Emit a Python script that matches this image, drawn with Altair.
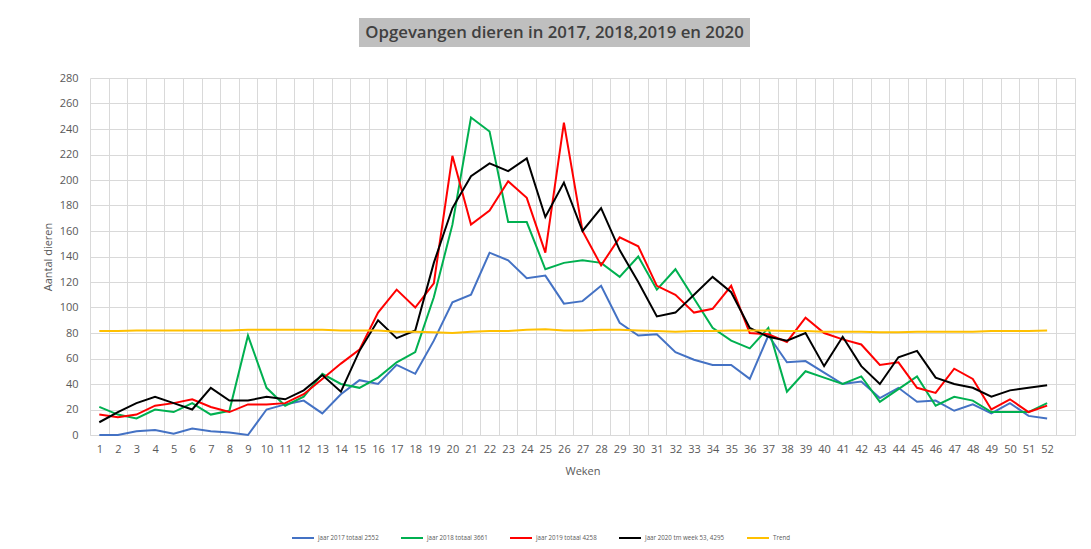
import altair as alt
import pandas as pd

weeks = list(range(1, 53))

series_names = [
    "jaar 2017 totaal 2552",
    "jaar 2018 totaal 3661",
    "jaar 2019 totaal 4258",
    "Jaar 2020 tm week 53, 4295",
    "Trend",
]
series_colors = ["#4472C4", "#00B050", "#FF0000", "#000000", "#FFC000"]
series_widths = [2, 2, 3, 2, 2]

y2017 = [0, 0, 3, 4, 1, 5, 3, 2, 0, 20, 24, 27, 17, 32, 43, 40, 55, 48, 74, 104,
         110, 143, 137, 123, 125, 103, 105, 117, 88, 78, 79, 65, 59, 55, 55, 44, 78, 57, 58, 49,
         40, 42, 29, 37, 26, 27, 19, 24, 17, 25, 15, 13]
y2018 = [22, 16, 13, 20, 18, 25, 16, 19, 78, 37, 23, 30, 48, 40, 37, 45, 57, 65, 108, 165,
         249, 238, 167, 167, 130, 135, 137, 135, 124, 140, 114, 130, 107, 84, 74, 68, 84, 34, 50, 45,
         40, 46, 26, 36, 46, 23, 30, 27, 18, 18, 18, 25]
y2019 = [16, 14, 16, 23, 25, 28, 22, 18, 24, 24, 25, 32, 44, 56, 67, 96, 114, 100, 119, 219,
         165, 176, 199, 186, 143, 245, 160, 133, 155, 148, 117, 110, 96, 99, 117, 80, 79, 73, 92, 80,
         75, 71, 55, 57, 37, 33, 52, 44, 20, 28, 18, 23]
y2020 = [10, 18, 25, 30, 25, 20, 37, 27, 27, 30, 28, 35, 47, 34, 66, 90, 76, 82, 135, 178,
         203, 213, 207, 217, 171, 198, 160, 178, 145, 120, 93, 96, 110, 124, 112, 84, 77, 74, 80, 54,
         77, 54, 40, 61, 66, 45, 40, 37, 30, 35, 37, 39]
trend = [81.5, 81.5, 82, 82, 82, 82, 82, 82, 82.5, 82.5, 82.5, 82.5, 82.5, 82, 82, 82, 81, 81, 80.5, 80,
         81, 81.5, 81.5, 82.5, 83, 82, 82, 82.5, 82.5, 82, 81.5, 81, 81.5, 81.5, 82, 82, 82, 81.5, 81.5, 81,
         81, 81, 80.5, 80.5, 81, 81, 81, 81, 81.5, 81.5, 81.5, 82]

y_ticks = list(range(0, 281, 20))
title_text = ["Opgevangen dieren in 2017, 2018,2019 en 2020"]

rows = []
for name, vals in zip(series_names, [y2017, y2018, y2019, y2020, trend]):
    for w, v in zip(weeks, vals):
        rows.append({"week": w, "value": v, "series": name})
df = pd.DataFrame(rows)

x_values = [i / 2 for i in range(1, 108)]  # 0.5 .. 53.5

FONT = "Open Sans"
GRID = "#D9D9D9"
TXT = "#595959"

lines = alt.Chart(df).mark_line(strokeJoin="miter").encode(
    x=alt.X(
        "week:Q",
        scale=alt.Scale(domain=[0.5, 53.5], nice=False, zero=False),
        axis=alt.Axis(
            values=x_values,
            labelExpr="datum.value % 1 == 0 && datum.value <= 52 ? datum.value : ''",
            gridOpacity={"condition": {"test": "datum.value % 1 != 0", "value": 1}, "value": 0},
            gridColor=GRID,
            ticks=False,
            domainColor=GRID,
            labelOverlap=False,
            labelFlush=False,
            labelPadding=8,
            labelFontSize=11,
            labelColor=TXT,
            labelFont=FONT,
            title="Weken",
            titleFontSize=11,
            titleFontWeight="normal",
            titleColor=TXT,
            titleFont=FONT,
            titlePadding=11,
        ),
    ),
    y=alt.Y(
        "value:Q",
        scale=alt.Scale(domain=[0, 280], nice=False),
        axis=alt.Axis(
            values=y_ticks,
            gridColor=GRID,
            ticks=False,
            domain=False,
            labelPadding=12,
            labelFontSize=11,
            labelColor=TXT,
            labelFont=FONT,
            title="Aantal dieren",
            titleFontSize=11,
            titleFontWeight="normal",
            titleColor=TXT,
            titleFont=FONT,
            titlePadding=6,
        ),
    ),
    color=alt.Color(
        "series:N",
        sort=series_names,
        scale=alt.Scale(domain=series_names, range=series_colors),
        legend=alt.Legend(
            title=None,
            orient="none",
            direction="horizontal",
            legendX=201,
            legendY=508,
            symbolType="stroke",
            symbolSize=484,
            symbolStrokeWidth=2.5,
            labelFontSize=6.2,
            labelFont=FONT,
            labelColor=TXT,
            labelOffset=3,
            columnPadding=18,
        ),
    ),
    strokeWidth=alt.StrokeWidth(
        "series:N",
        scale=alt.Scale(domain=series_names, range=series_widths),
        legend=None,
    ),
).properties(width=985, height=357)

spacer = alt.Chart(pd.DataFrame({"t": [""]})).mark_point(opacity=0).properties(
    width=269, height=29
)

title_chart = alt.Chart(pd.DataFrame({"t": title_text})).mark_text(
    font=FONT, fontSize=16.8, fontWeight=600, color="#404040"
).encode(
    text="t:N"
).properties(
    width=391, height=29, view=alt.ViewBackground(fill="#BFBFBF", stroke=None)
)

title_row = alt.hconcat(spacer, title_chart, spacing=0)

chart = alt.vconcat(title_row, lines, spacing=25).properties(
    padding={"left": 34, "top": 10, "right": 5, "bottom": 5}
).configure_view(stroke=None)

chart.save("out.html", embed_options={"renderer": "svg", "actions": False})
